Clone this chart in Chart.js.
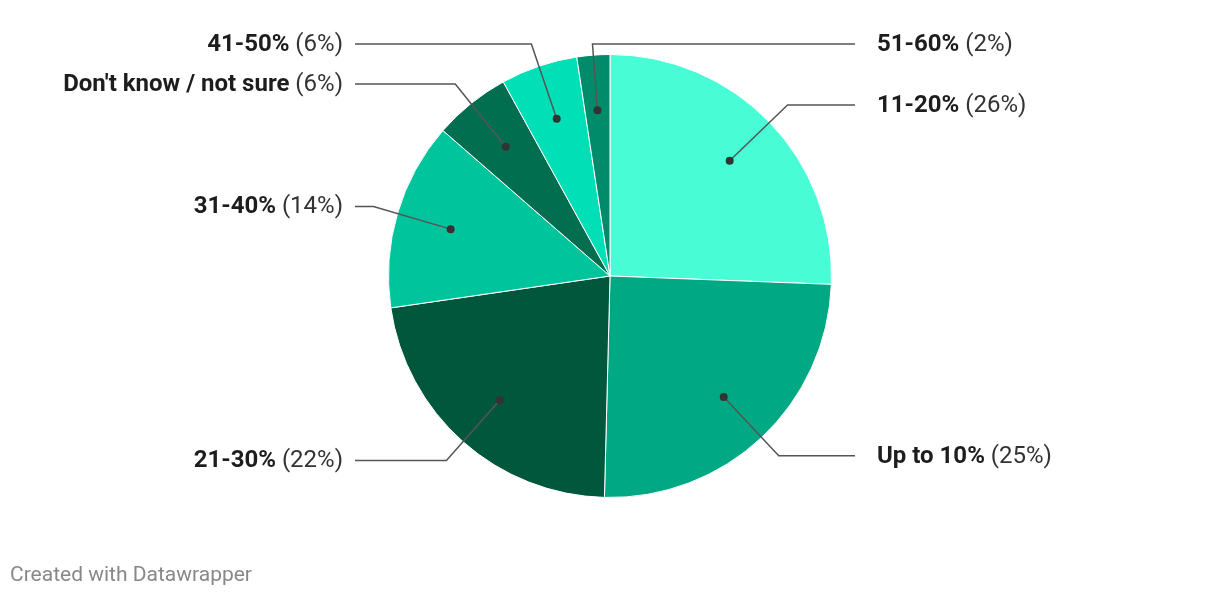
<!DOCTYPE html>
<html>
<head>
<meta charset="utf-8">
<script src="https://cdn.jsdelivr.net/npm/chart.js@4.4.1/dist/chart.umd.min.js"></script>
<style>
  html, body { margin: 0; padding: 0; background: #fff; }
  #wrap { position: relative; width: 1220px; height: 598px; }
  #credit {
    position: absolute; left: 10px; top: 562px;
    font: 21px Roboto, sans-serif; color: #888;
  }
</style>
</head>
<body>
<div id="wrap">
  <canvas id="pie" width="1220" height="598"></canvas>
  <div id="credit">Created with Datawrapper</div>
</div>
<script>
// slices, clockwise from 12 o'clock
const categorias = ['11-20%', 'Up to 10%', '21-30%', '31-40%', "Don't know / not sure", '41-50%', '51-60%'];
const valores = [25.6, 24.8, 22.3, 13.7, 5.6, 5.6, 2.4];
const cores = ['#48fdd6', '#00a884', '#00573c', '#00c49b', '#006e4f', '#00dfb6', '#008c6a'];

const FONTE = 'Roboto, sans-serif';
const TAM = 24;

// leader lines + labels, positioned from the arc elements
const rotulos = {
  id: 'rotulos',
  afterDatasetsDraw(chart) {
    const ctx = chart.ctx;
    const arcs = chart.getDatasetMeta(0).data;
    const minY = 44;
    ctx.save();
    arcs.forEach((arc, i) => {
      const { x, y, startAngle, endAngle, outerRadius } = arc.getProps(['x', 'y', 'startAngle', 'endAngle', 'outerRadius'], true);
      const mid = (startAngle + endAngle) / 2;
      const cx = Math.cos(mid), cy = Math.sin(mid);
      const dot = { x: x + cx * outerRadius * 0.75, y: y + cy * outerRadius * 0.75 };
      let t = outerRadius + 25;
      let ey = y + cy * t;
      if (ey < minY) { ey = minY; t = (y - minY) / -cy; }
      const ex = x + cx * t;
      const direita = cx > -0.15; // thin top slice goes to the right side
      const fimX = direita ? 855 : 355;

      ctx.strokeStyle = '#555';
      ctx.lineWidth = 1.5;
      ctx.beginPath();
      ctx.moveTo(dot.x, dot.y);
      ctx.lineTo(ex, ey);
      ctx.lineTo(fimX, ey);
      ctx.stroke();

      ctx.fillStyle = '#333';
      ctx.beginPath();
      ctx.arc(dot.x, dot.y, 4, 0, Math.PI * 2);
      ctx.fill();

      const nome = categorias[i];
      const pct = ' (' + Math.round(valores[i]) + '%)';
      ctx.textBaseline = 'middle';
      ctx.font = 'bold ' + TAM + 'px ' + FONTE;
      const wNome = ctx.measureText(nome).width;
      ctx.font = TAM + 'px ' + FONTE;
      const wPct = ctx.measureText(pct).width;
      const x0 = direita ? 877 : 343 - wNome - wPct;
      ctx.textAlign = 'left';
      ctx.fillStyle = '#1d1d1d';
      ctx.font = 'bold ' + TAM + 'px ' + FONTE;
      ctx.fillText(nome, x0, ey + 1);
      ctx.fillStyle = '#333';
      ctx.font = TAM + 'px ' + FONTE;
      ctx.fillText(pct, x0 + wNome, ey + 1);
    });
    ctx.restore();
  }
};

new Chart(document.getElementById('pie'), {
  type: 'pie',
  data: {
    labels: categorias,
    datasets: [{ data: valores, backgroundColor: cores, borderColor: '#fff', borderWidth: 1 }]
  },
  options: {
    responsive: false,
    animation: false,
    layout: { padding: { top: 54, bottom: 100 } },
    plugins: { legend: { display: false }, tooltip: { enabled: false } }
  },
  plugins: [rotulos]
});
</script>
</body>
</html>
